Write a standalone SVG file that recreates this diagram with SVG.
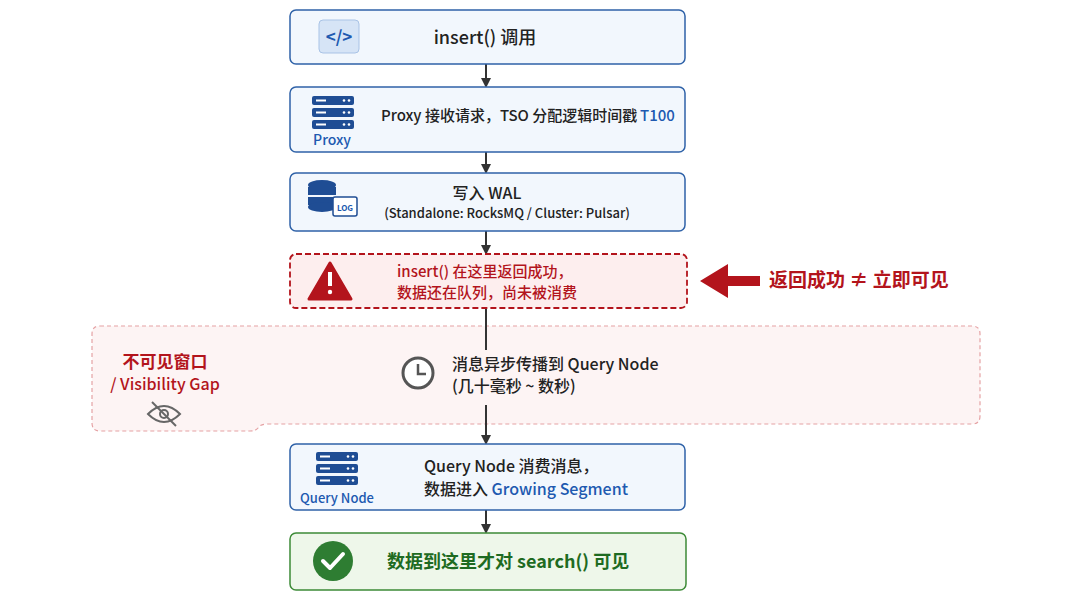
<svg xmlns="http://www.w3.org/2000/svg" width="1080" height="608" viewBox="0 0 1080 608">
<style>
text{font-family:"Noto Sans CJK SC","Noto Sans",sans-serif;font-weight:500;}
.box{fill:#f2f7fd;stroke:#2f62a8;stroke-width:1.5;}
.t{font-size:16px;fill:#222;}
.s{font-size:13px;fill:#222;}
.blue{fill:#2059b0;}
.red{fill:#b3141c;}
.ln{stroke:#333;stroke-width:2;fill:none;}
</style>
<defs>
<marker id="ah" markerWidth="10" markerHeight="10" refX="8" refY="5" orient="auto" markerUnits="userSpaceOnUse"><path d="M0,0 L10,5 L0,10 z" fill="#333"/></marker>
</defs>
<rect width="1080" height="608" fill="#fff"/>
<g id="gap">
<path d="M100,326 H972 Q980,326 980,334 V416 Q980,424 972,424 H268 Q260,424 258,428 Q256,431 250,431 H100 Q92,431 92,423 V334 Q92,326 100,326 Z" fill="#fdf4f4" stroke="#e5a2a4" stroke-width="1.2" stroke-dasharray="4 3"/>
<text x="165" y="368" text-anchor="middle" font-size="17" class="red" style="font-weight:bold">不可见窗口</text>
<text x="165" y="390" text-anchor="middle" font-size="16" class="red">/ Visibility Gap</text>
<g stroke="#666" stroke-width="2" fill="none"><path d="M148,414 Q164,398 180,414 Q164,430 148,414 Z"/><circle cx="164" cy="414" r="4"/><line x1="152" y1="402" x2="176" y2="426"/></g>
<circle cx="418" cy="373" r="15" fill="#fff" stroke="#555" stroke-width="3"/>
<path d="M418,364 V374 H426" stroke="#555" stroke-width="2.5" fill="none"/>
<text x="452" y="370" class="t">消息异步传播到 Query Node</text>
<text x="452" y="392" class="t">(几十毫秒 ~ 数秒)</text>
</g>
<g id="connectors">
<line class="ln" x1="486" y1="64" x2="486" y2="86" marker-end="url(#ah)"/>
<line class="ln" x1="486" y1="152" x2="486" y2="172" marker-end="url(#ah)"/>
<line class="ln" x1="486" y1="231" x2="486" y2="253" marker-end="url(#ah)"/>
<line class="ln" x1="486" y1="308" x2="486" y2="350"/>
<line class="ln" x1="486" y1="405" x2="486" y2="443" marker-end="url(#ah)"/>
<line class="ln" x1="486" y1="510" x2="486" y2="532" marker-end="url(#ah)"/>
<path d="M760,276 H728 V264 L700,281 L728,298 V286 H760 Z" fill="#b3141c"/>
</g>
<g id="n1">
<rect class="box" x="290" y="10" width="395" height="54" rx="6"/>
<rect x="319" y="20" width="40" height="33" rx="4" fill="#d6e4f6" stroke="#a9c3e6"/>
<text x="339" y="43" text-anchor="middle" font-size="17" class="blue" style="font-weight:bold">&lt;/&gt;</text>
<text x="485" y="44" text-anchor="middle" font-size="18" fill="#222">insert() 调用</text>
</g>
<g id="n2">
<rect class="box" x="290" y="87" width="395" height="65" rx="6"/>
<g fill="#1f4d94"><rect x="312" y="96" width="42" height="9" rx="2"/><rect x="312" y="108" width="42" height="9" rx="2"/><rect x="312" y="120" width="42" height="9" rx="2"/></g>
<g fill="#fff"><rect x="316" y="99.5" width="10" height="2"/><rect x="316" y="111.5" width="10" height="2"/><rect x="316" y="123.5" width="10" height="2"/><circle cx="344" cy="100.5" r="1.3"/><circle cx="349" cy="100.5" r="1.3"/><circle cx="344" cy="112.5" r="1.3"/><circle cx="349" cy="112.5" r="1.3"/><circle cx="344" cy="124.5" r="1.3"/><circle cx="349" cy="124.5" r="1.3"/></g>
<text x="332" y="145" text-anchor="middle" font-size="14" class="blue">Proxy</text>
<text x="381" y="121" font-size="15" fill="#222">Proxy 接收请求，TSO 分配逻辑时间戳</text>
<text x="640" y="121" font-size="15" class="blue">T100</text>
</g>
<g id="n3">
<rect class="box" x="290" y="173" width="395" height="58" rx="6"/>
<g fill="#1f4d94"><ellipse cx="322" cy="185" rx="14" ry="5"/><rect x="308" y="187" width="28" height="8"/><rect x="308" y="197" width="28" height="8"/><ellipse cx="322" cy="207" rx="14" ry="5"/></g>
<rect x="333" y="197" width="24" height="19" rx="2" fill="#fff" stroke="#1f4d94" stroke-width="1.5"/>
<text x="345" y="211" text-anchor="middle" font-size="8" class="blue" style="font-weight:bold">LOG</text>
<text x="487" y="199" text-anchor="middle" font-size="16" fill="#222">写入 WAL</text>
<text x="507" y="218" text-anchor="middle" class="s">(Standalone: RocksMQ / Cluster: Pulsar)</text>
</g>
<g id="n4">
<rect x="290" y="254" width="397" height="54" rx="6" fill="#fdeeee" stroke="#b3141c" stroke-width="1.8" stroke-dasharray="6 3"/>
<path d="M330,263 L351,299 H309 Z" fill="#b3141c" stroke="#b3141c" stroke-width="3" stroke-linejoin="round"/>
<rect x="328" y="272" width="4" height="14" fill="#fff"/><circle cx="330" cy="292" r="2.2" fill="#fff"/>
<text x="397" y="277" font-size="15" class="red">insert() 在这里返回成功，</text>
<text x="397" y="298" font-size="15" class="red">数据还在队列，尚未被消费</text>
</g>
<g id="note">
<text x="769" y="287" font-size="19" class="red" style="font-weight:bold">返回成功 ≠ 立即可见</text>
</g>
<g id="n5">
<rect class="box" x="290" y="444" width="395" height="66" rx="6"/>
<g fill="#1f4d94"><rect x="316" y="452" width="42" height="9" rx="2"/><rect x="316" y="464" width="42" height="9" rx="2"/><rect x="316" y="476" width="42" height="9" rx="2"/></g>
<g fill="#fff"><rect x="320" y="455.5" width="10" height="2"/><rect x="320" y="467.5" width="10" height="2"/><rect x="320" y="479.5" width="10" height="2"/><circle cx="348" cy="456.5" r="1.3"/><circle cx="353" cy="456.5" r="1.3"/><circle cx="348" cy="468.5" r="1.3"/><circle cx="353" cy="468.5" r="1.3"/><circle cx="348" cy="480.5" r="1.3"/><circle cx="353" cy="480.5" r="1.3"/></g>
<text x="337" y="503" text-anchor="middle" font-size="13" class="blue">Query Node</text>
<text x="424" y="472" class="t" font-size="15">Query Node 消费消息，</text>
<text x="424" y="495" class="t" font-size="15">数据进入 <tspan class="blue">Growing Segment</tspan></text>
</g>
<g id="n6">
<rect x="290" y="533" width="396" height="57" rx="6" fill="#eef7ea" stroke="#3d8b37" stroke-width="1.5"/>
<circle cx="333" cy="561" r="20" fill="#2e7d32"/>
<path d="M323,561 L330,568 L343,554" stroke="#fff" stroke-width="4" fill="none" stroke-linecap="round" stroke-linejoin="round"/>
<text x="387" y="568" font-size="18" fill="#1e6b22" style="font-weight:bold">数据到这里才对 search() 可见</text>
</g>
</svg>
